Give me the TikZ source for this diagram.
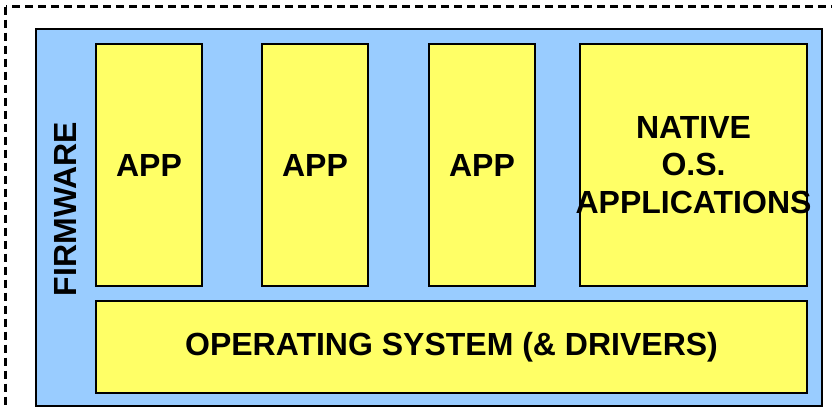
\documentclass[tikz,border=0pt]{standalone}
\usepackage{fontspec}
\setmainfont{Liberation Sans}
\definecolor{fwblue}{HTML}{99CCFF}
\definecolor{appyellow}{HTML}{FFFF66}
\begin{document}
\begin{tikzpicture}[x=1pt,y=-1pt,
  lbl/.style={font=\fontsize{32}{37.5}\selectfont\bfseries, text=black},
  ybox/.style={draw=black, line width=2pt, fill=appyellow, lbl, inner sep=0pt, align=center},
  fwbox/.style={draw=black, line width=2pt, fill=fwblue, inner sep=0pt},
  outline/.style={draw=black, line width=2.5pt, dash pattern=on 8pt off 5pt}]
\useasboundingbox (0,0) rectangle (832,407);
\clip (0,0) rectangle (832,407);
\draw[outline] (5.5,6.5) rectangle (850,430);
\node[fwbox, minimum width=786pt, minimum height=377pt] (fw) at (429,217.5) {};
\node[lbl, rotate=90] (fwlabel) at (65,209) {FIRMWARE};
\node[ybox, minimum width=106pt, minimum height=242pt] (app1) at (149,165) {APP};
\node[ybox, minimum width=106pt, minimum height=242pt] (app2) at (315,165) {APP};
\node[ybox, minimum width=106pt, minimum height=242pt] (app3) at (482,165) {APP};
\node[ybox, minimum width=227pt, minimum height=242pt] (native) at (693.5,165) {NATIVE\\O.S.\\\makebox[0pt]{APPLICATIONS}};
\node[ybox, minimum width=711pt, minimum height=92pt] (os) at (451.5,347) {OPERATING SYSTEM (\&{} DRIVERS)};
\end{tikzpicture}
\end{document}
